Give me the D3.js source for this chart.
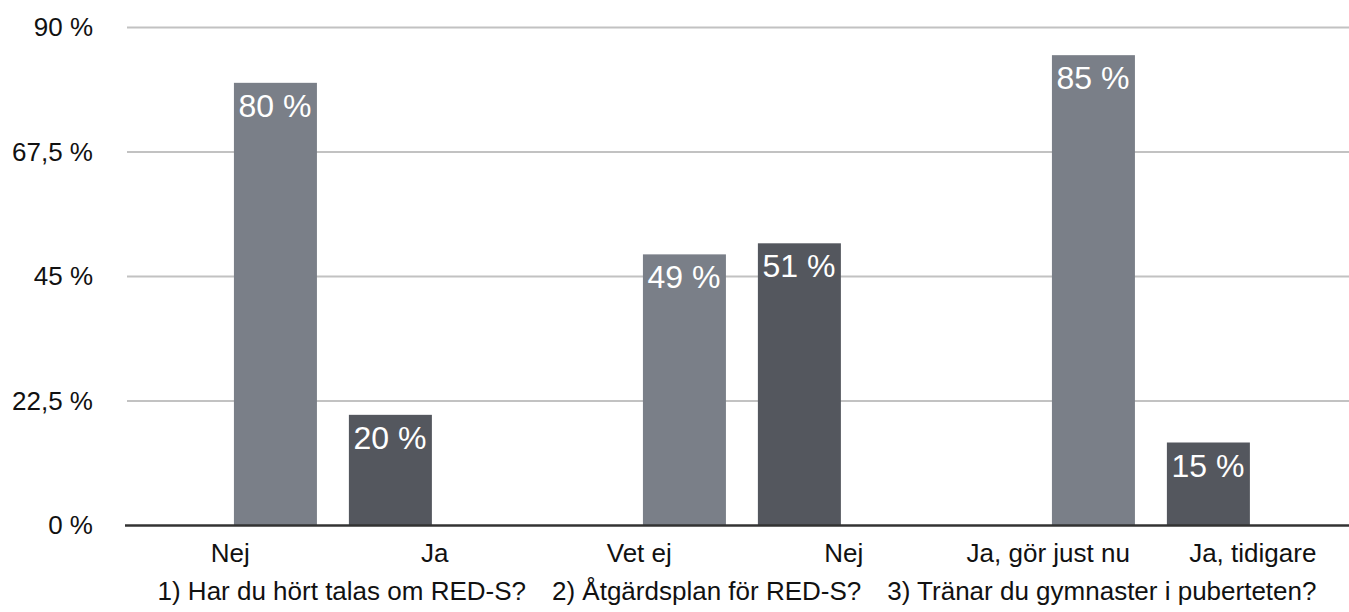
<!DOCTYPE html>
<html>
<head>
<meta charset="utf-8">
<script src="https://cdn.jsdelivr.net/npm/d3@7"></script>
<style>
  html, body { margin: 0; padding: 0; background: #fff; }
  svg { display: block; font-family: "Liberation Sans", Arial, Helvetica, sans-serif; }
</style>
</head>
<body>
<svg id="chart" width="1349" height="612"></svg>
<script>
// Survey questions (one group each) and their answer categories
const questions = [
  "1) Har du hört talas om RED-S?",
  "2) Åtgärdsplan för RED-S?",
  "3) Tränar du gymnaster i puberteten?"
];
const answers = [
  ["Nej", "Ja"],
  ["Vet ej", "Nej"],
  ["Ja, gör just nu", "Ja, tidigare"]
];
// Share of respondents, in percent
const shares = [
  [80, 20],
  [49, 51],
  [85, 15]
];
const yTicks = [0, 22.5, 45, 67.5, 90];
const barColors = ["#7a7f88", "#54575e"];

const svg = d3.select("#chart");
const W = 1349;

const sv = d3.formatLocale({ decimal: ",", thousands: " ", grouping: [3], currency: ["", " kr"] });
const fmtTick = v => sv.format("~f")(v) + " %";
const fmtVal = v => sv.format("d")(v) + " %";

const y = d3.scaleLinear().domain([0, 90]).range([525.5, 27.5]);
const xGroup = d3.scaleBand().domain(d3.range(questions.length)).range([128, 1355]).padding(0);
const bw = xGroup.bandwidth();
const xBar = d3.scaleBand().domain([0, 1]).range([bw * 0.259, bw * 0.743]).paddingInner(0.278).paddingOuter(0);
const xLabel = d3.scalePoint().domain([0, 1]).range([bw * 0.25, bw * 0.75]);

// Horizontal gridlines
svg.append("g")
  .selectAll("line")
  .data(yTicks.filter(t => t > 0))
  .join("line")
  .attr("x1", 127).attr("x2", W)
  .attr("y1", d => y(d)).attr("y2", d => y(d))
  .attr("stroke", "#c2c2c2").attr("stroke-width", 2);

// Y-axis labels
const yAxis = d3.axisLeft(y).tickValues(yTicks).tickFormat(fmtTick).tickSize(0).tickPadding(0);
svg.append("g")
  .attr("transform", "translate(93,0)")
  .call(yAxis)
  .call(g => g.select(".domain").remove())
  .call(g => g.selectAll("text")
    .attr("font-size", 26)
    .attr("fill", "#111")
    .attr("font-family", "'Liberation Sans', Arial, sans-serif"));

// Bars grouped by question
const groups = svg.append("g")
  .selectAll("g")
  .data(questions.map((q, i) => ({ q, i })))
  .join("g")
  .attr("transform", d => `translate(${xGroup(d.i)},0)`);

groups.selectAll("rect")
  .data(d => shares[d.i].map((v, j) => ({ v, j })))
  .join("rect")
  .attr("x", d => xBar(d.j))
  .attr("width", xBar.bandwidth())
  .attr("y", d => y(d.v))
  .attr("height", d => y(0) - y(d.v))
  .attr("fill", d => barColors[d.j]);

// Value labels inside bar tops
groups.selectAll("text.val")
  .data(d => shares[d.i].map((v, j) => ({ v, j })))
  .join("text")
  .attr("class", "val")
  .attr("x", d => xBar(d.j) + xBar.bandwidth() / 2 - 0.5)
  .attr("y", d => y(d.v) + 34)
  .attr("text-anchor", "middle")
  .attr("font-size", 32)
  .attr("fill", "#fff")
  .text(d => fmtVal(d.v));

// Answer category labels
groups.selectAll("text.cat")
  .data(d => answers[d.i].map((a, j) => ({ a, j })))
  .join("text")
  .attr("class", "cat")
  .attr("x", d => xLabel(d.j))
  .attr("y", 561.5)
  .attr("text-anchor", "middle")
  .attr("font-size", 26)
  .attr("fill", "#111")
  .text(d => d.a);

// Question titles: laid out as one row, evenly spaced and centred under the plot
const titleGap = 26;
const titles = svg.append("g")
  .selectAll("text")
  .data(questions)
  .join("text")
  .attr("y", 600)
  .attr("font-size", 26)
  .attr("fill", "#111")
  .text(d => d);
const widths = titles.nodes().map(n => n.getComputedTextLength());
const rowWidth = d3.sum(widths) + titleGap * (widths.length - 1);
const rowCenter = (125 + W) / 2;
let cursor = rowCenter - rowWidth / 2;
titles.each(function (d, i) {
  d3.select(this).attr("x", cursor);
  cursor += widths[i] + titleGap;
});

// Baseline
svg.append("line")
  .attr("x1", 125).attr("x2", W)
  .attr("y1", y(0)).attr("y2", y(0))
  .attr("stroke", "#333").attr("stroke-width", 2.6);
</script>
</body>
</html>
